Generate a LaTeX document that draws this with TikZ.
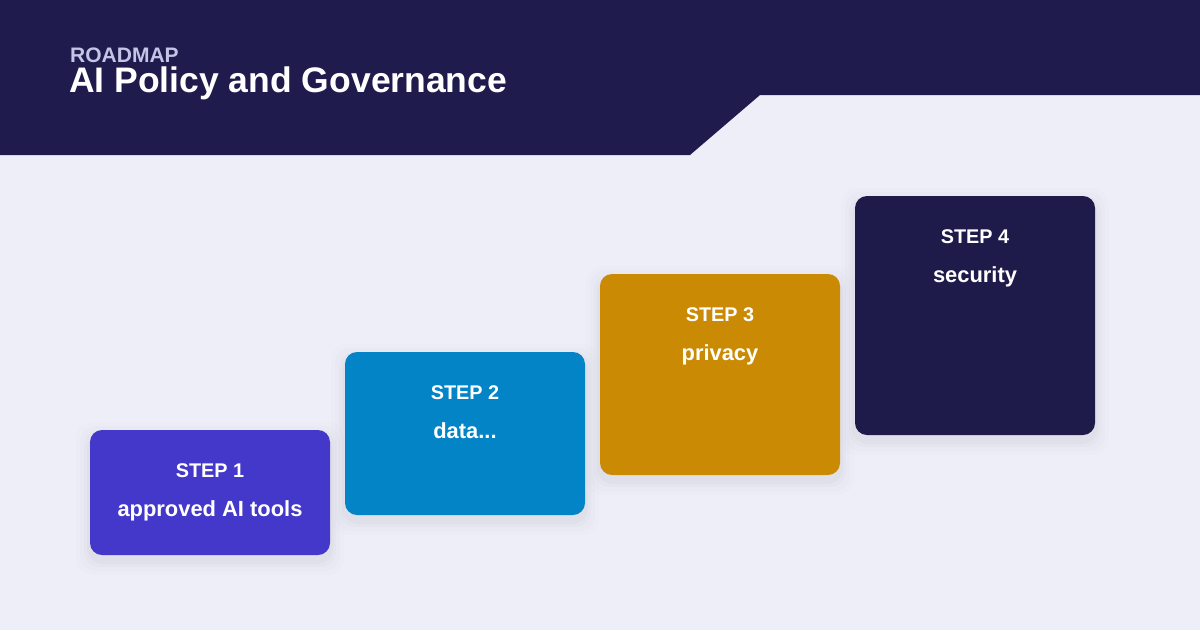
\documentclass[tikz,border=0pt]{standalone}
\usepackage{fontspec}
\setmainfont{Liberation Sans}
\definecolor{bg}{HTML}{EEEEF9}
\definecolor{hdr}{HTML}{1F1B4D}
\definecolor{sub}{HTML}{C4C4E6}
\definecolor{cA}{HTML}{4338CA}
\definecolor{cB}{HTML}{0284C7}
\definecolor{cC}{HTML}{CA8A04}
\definecolor{cD}{HTML}{1E1B4B}
\tikzset{
  steptitle/.style={text=white, inner sep=0pt, font=\bfseries\fontsize{19.8}{22}\selectfont, anchor=base},
  steplabel/.style={text=white, inner sep=0pt, font=\bfseries\fontsize{21.9}{24}\selectfont, anchor=base},
}
\newcommand{\stepcard}[8]{%
  % #1 name, #2 x0, #3 y0, #4 x1, #5 y1, #6 colour, #7 title, #8 label
  \foreach \k/\o in {14/0.008,10/0.011,6/0.014,3/0.018}{
    \fill[black, opacity=\o, rounded corners=16pt] (#2-\k,#3-\k+6) rectangle (#4+\k,#5+\k+6);
  }
  \fill[#6, rounded corners=12pt] (#2,#3) rectangle (#4,#5);
  \node[steptitle] (#1t) at ({(#2+#4)/2},#3+47) {#7};
  \node[steplabel] (#1l) at ({(#2+#4)/2},#3+86) {#8};
}
\begin{document}
\begin{tikzpicture}[x=1pt,y=-1pt]
\fill[bg] (0,0) rectangle (1200,630);
\useasboundingbox (0,0) rectangle (1200,630);
\fill[hdr] (0,0) -- (1200,0) -- (1200,95) -- (760,95) -- (690,155) -- (0,155) -- cycle;
\node[anchor=base west, inner sep=0pt, text=sub, font=\bfseries\fontsize{21}{22}\selectfont] (kicker) at (70,62) {ROADMAP};
\node[anchor=base west, inner sep=0pt, text height=25pt, text=white, font=\bfseries\fontsize{35.5}{38}\selectfont] (title) at (69,92.5) {AI Policy and Governance};
\stepcard{s1}{90}{430}{330}{555}{cA}{STEP 1}{approved AI tools}
\stepcard{s2}{345}{352}{585}{515}{cB}{STEP 2}{data...}
\stepcard{s3}{600}{274}{840}{475}{cC}{STEP 3}{privacy}
\stepcard{s4}{855}{196}{1095}{435}{cD}{STEP 4}{security}
\end{tikzpicture}
\end{document}
